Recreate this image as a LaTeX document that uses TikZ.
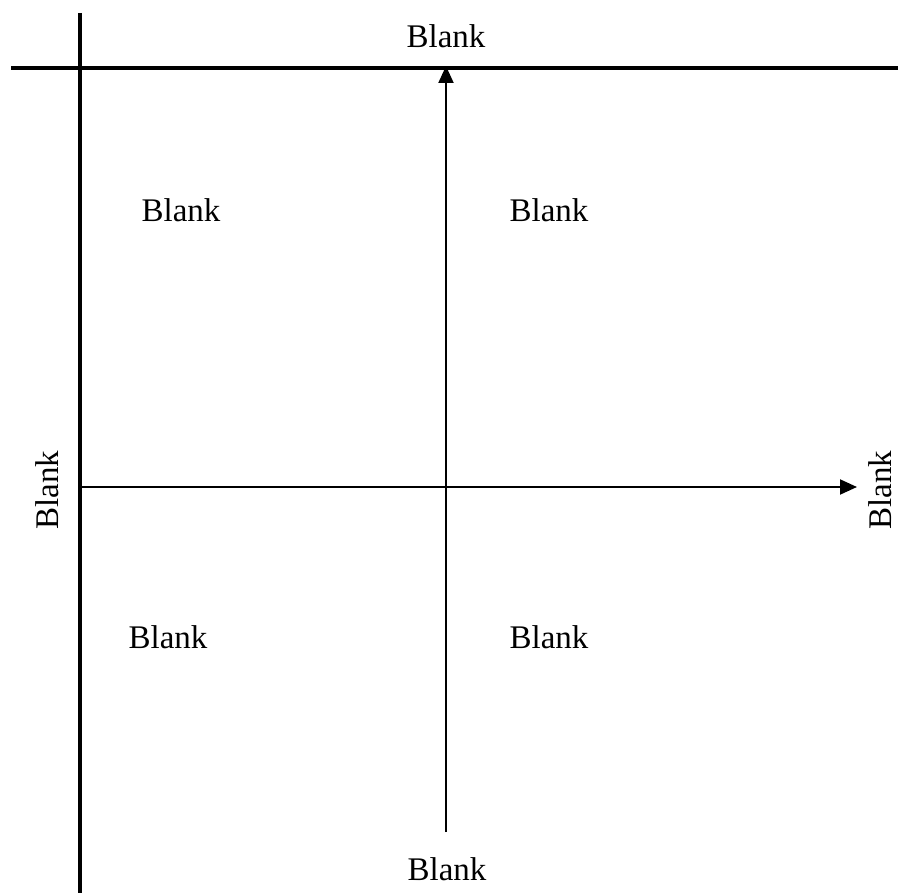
\documentclass[tikz,border=0pt]{standalone}
\usepackage{fontspec}
\setmainfont{Liberation Serif}
\usetikzlibrary{arrows.meta}
\begin{document}
\begin{tikzpicture}[x=1pt,y=-1pt,
  lbl/.style={inner sep=0pt,font=\fontsize{33}{40}\selectfont},
  thickline/.style={line width=4pt},
  axis/.style={line width=2pt,-{Triangle[length=17pt,width=15pt]}}]
\useasboundingbox (0,0) rectangle (898,893);
% thick frame lines
\coordinate (vtop) at (80,13);
\coordinate (vbot) at (80,893);
\coordinate (hl) at (11,68);
\coordinate (hr) at (898,68);
\draw[thickline] (vtop) -- (vbot);
\draw[thickline] (hl) -- (hr);
% axes
\coordinate (ybot) at (446,832);
\coordinate (ytop) at (446,66);
\coordinate (xl) at (82,487);
\coordinate (xr) at (857,487);
\draw[axis] (ybot) -- (ytop);
\draw[axis] (xl) -- (xr);
% labels
\node[lbl] (top) at (446,36) {Blank};
\node[lbl] (bottom) at (447,869) {Blank};
\node[lbl,rotate=90] (left) at (47,490) {Blank};
\node[lbl,rotate=90] (right) at (880,490) {Blank};
\node[lbl] (q1) at (181,210) {Blank};
\node[lbl] (q2) at (549,210) {Blank};
\node[lbl] (q3) at (168,637) {Blank};
\node[lbl] (q4) at (549,637) {Blank};
\end{tikzpicture}
\end{document}
